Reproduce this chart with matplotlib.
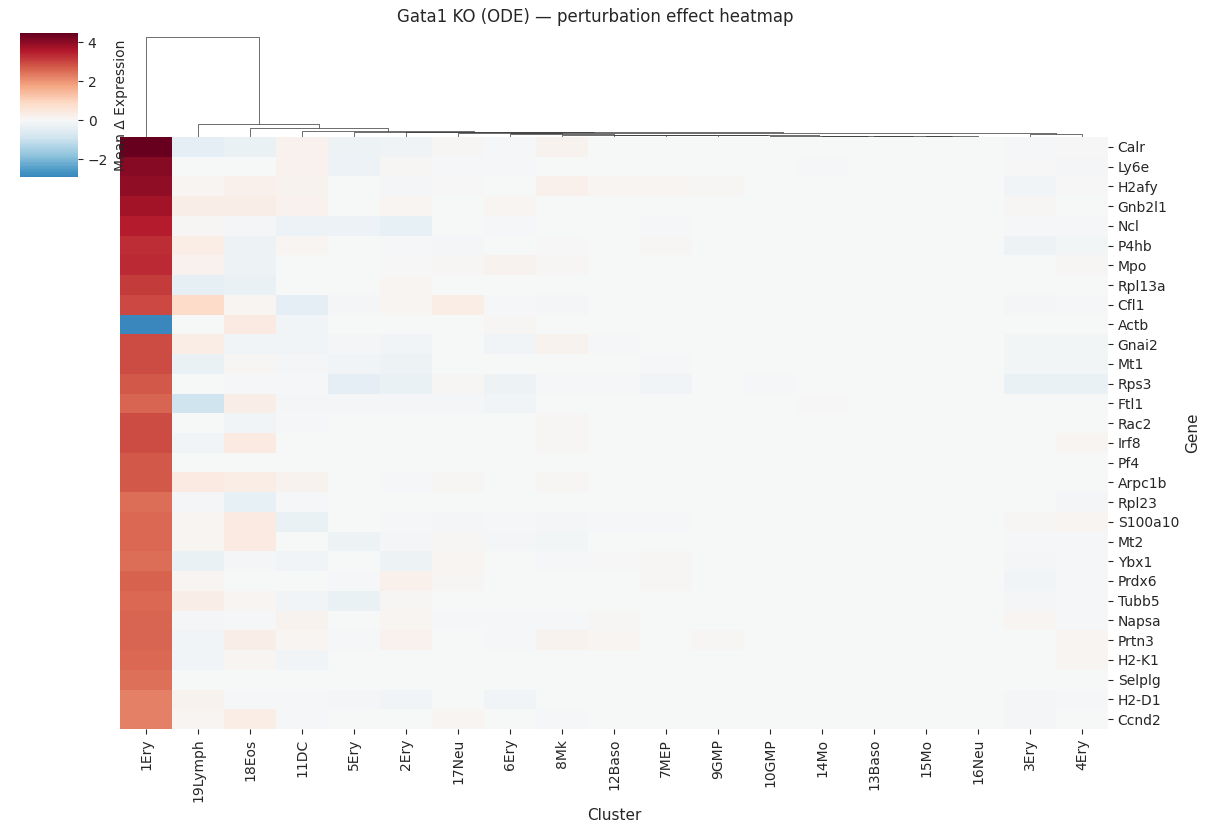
import matplotlib
matplotlib.use('Agg')
import matplotlib.pyplot as plt
from matplotlib.collections import LineCollection
import numpy as np
import pandas as pd
import seaborn as sns

plt.rcParams['text.color'] = '.15'
plt.rcParams['axes.labelcolor'] = '.15'
plt.rcParams['xtick.color'] = '.15'
plt.rcParams['ytick.color'] = '.15'

genes = ['Calr', 'Ly6e', 'H2afy', 'Gnb2l1', 'Ncl', 'P4hb', 'Mpo', 'Rpl13a',
         'Cfl1', 'Actb', 'Gnai2', 'Mt1', 'Rps3', 'Ftl1', 'Rac2', 'Irf8',
         'Pf4', 'Arpc1b', 'Rpl23', 'S100a10', 'Mt2', 'Ybx1', 'Prdx6',
         'Tubb5', 'Napsa', 'Prtn3', 'H2-K1', 'Selplg', 'H2-D1', 'Ccnd2']

clusters = ['1Ery', '19Lymph', '18Eos', '11DC', '5Ery', '2Ery', '17Neu',
            '6Ery', '8Mk', '12Baso', '7MEP', '9GMP', '10GMP', '14Mo',
            '13Baso', '15Mo', '16Neu', '3Ery', '4Ery']

# mean delta expression, one row per gene, columns in cluster order above
delta = [
    [4.48, -0.45, -0.30, 0.20, -0.20, -0.18, 0.05, -0.07, 0.15, 0.00, -0.02, 0.00, 0.00, 0.00, 0.00, 0.00, 0.00, -0.08, 0.02],
    [4.05, 0.00, 0.00, 0.20, -0.28, 0.05, -0.06, -0.05, 0.00, 0.00, 0.00, 0.00, -0.02, -0.08, 0.00, 0.00, 0.00, 0.02, -0.10],
    [3.95, 0.10, 0.22, 0.15, 0.00, -0.10, 0.03, 0.00, 0.22, 0.12, 0.10, 0.05, 0.00, -0.02, 0.00, 0.00, 0.00, -0.15, 0.02],
    [3.75, 0.30, 0.30, 0.20, 0.00, 0.10, 0.00, 0.08, -0.02, 0.00, 0.00, 0.00, 0.00, 0.00, 0.00, 0.00, 0.00, 0.05, 0.00],
    [3.50, 0.05, -0.10, -0.28, -0.28, -0.35, 0.00, -0.03, -0.02, 0.00, -0.03, 0.00, 0.00, -0.02, 0.00, 0.00, 0.00, -0.05, -0.05],
    [3.30, 0.35, -0.25, 0.10, -0.02, -0.05, -0.10, -0.02, 0.03, 0.00, 0.05, -0.02, 0.00, 0.00, 0.00, 0.00, 0.00, -0.20, -0.12],
    [3.35, 0.20, -0.20, 0.00, 0.00, 0.02, 0.05, 0.15, 0.05, 0.00, 0.00, 0.00, 0.00, 0.00, 0.00, -0.02, 0.00, 0.00, 0.05],
    [3.15, -0.40, -0.30, 0.00, 0.00, 0.08, 0.00, 0.00, 0.00, 0.00, 0.00, 0.00, 0.00, 0.00, 0.00, 0.00, 0.00, -0.02, 0.00],
    [2.95, 0.85, 0.10, -0.45, -0.10, 0.08, 0.35, -0.05, -0.10, -0.02, -0.02, 0.00, -0.02, 0.00, -0.02, 0.00, 0.00, -0.10, -0.05],
    [-2.91, 0.00, 0.40, -0.15, 0.00, 0.00, 0.00, 0.05, 0.00, 0.00, 0.00, 0.00, 0.00, 0.00, 0.00, 0.00, 0.00, 0.00, -0.02],
    [2.90, 0.35, -0.15, -0.15, -0.10, -0.15, 0.00, -0.15, 0.15, -0.03, 0.00, -0.02, 0.00, 0.00, 0.00, 0.00, 0.00, -0.12, -0.12],
    [2.90, -0.30, 0.05, -0.10, -0.15, -0.20, 0.00, 0.00, 0.00, 0.00, -0.03, 0.00, -0.02, 0.00, 0.00, 0.00, 0.00, -0.12, -0.12],
    [2.75, 0.00, -0.05, -0.05, -0.45, -0.30, 0.05, -0.25, -0.05, -0.05, -0.15, -0.02, -0.08, -0.02, -0.02, -0.02, -0.02, -0.30, -0.30],
    [2.60, -0.90, 0.30, -0.10, -0.10, -0.10, -0.10, -0.15, 0.00, 0.00, -0.02, 0.00, -0.02, 0.02, 0.00, 0.00, 0.00, 0.00, 0.00],
    [2.90, 0.00, -0.15, -0.05, 0.00, 0.00, 0.00, 0.00, 0.05, 0.00, 0.00, 0.00, 0.00, 0.00, 0.00, 0.00, 0.00, 0.00, 0.00],
    [2.90, -0.15, 0.40, 0.00, 0.00, 0.00, 0.00, 0.00, 0.05, 0.00, 0.00, 0.00, 0.00, 0.00, 0.00, 0.00, 0.00, -0.02, 0.08],
    [2.80, 0.00, 0.00, -0.02, 0.00, 0.00, 0.00, 0.00, 0.00, 0.00, 0.00, 0.00, 0.00, 0.00, 0.00, 0.00, 0.00, 0.00, 0.00],
    [2.80, 0.40, 0.35, 0.15, -0.02, -0.05, 0.05, 0.00, 0.05, 0.00, 0.00, 0.00, 0.00, 0.00, 0.00, 0.00, 0.00, 0.00, 0.00],
    [2.50, -0.10, -0.35, -0.05, 0.00, -0.02, 0.00, 0.00, 0.00, 0.00, 0.00, 0.00, 0.00, 0.00, -0.02, 0.00, 0.00, 0.00, -0.10],
    [2.55, 0.10, 0.40, -0.30, -0.02, -0.05, -0.10, -0.05, -0.10, -0.05, -0.03, -0.02, -0.02, 0.00, 0.00, 0.00, 0.00, 0.05, 0.10],
    [2.55, 0.10, 0.40, -0.02, -0.25, -0.10, 0.05, -0.10, -0.12, -0.02, 0.00, 0.00, 0.00, 0.00, 0.00, 0.00, 0.00, -0.05, -0.03],
    [2.50, -0.30, -0.10, -0.15, -0.02, -0.20, 0.10, -0.02, -0.08, 0.02, 0.05, 0.00, 0.00, 0.00, 0.00, 0.00, 0.00, -0.10, -0.05],
    [2.65, 0.10, 0.00, 0.00, -0.05, 0.22, 0.05, -0.02, 0.00, -0.02, 0.05, 0.00, 0.00, -0.02, -0.02, -0.02, -0.02, -0.15, -0.03],
    [2.55, 0.30, 0.10, -0.15, -0.30, 0.05, 0.00, 0.00, 0.00, 0.00, -0.02, 0.00, 0.00, 0.00, 0.00, 0.00, -0.02, -0.10, -0.05],
    [2.60, -0.10, -0.05, 0.15, -0.02, 0.10, -0.05, -0.05, -0.05, 0.05, 0.00, 0.00, 0.00, 0.00, 0.00, 0.00, 0.00, 0.12, -0.05],
    [2.60, -0.15, 0.30, 0.10, -0.05, 0.20, -0.02, -0.05, 0.15, 0.08, 0.00, 0.05, 0.00, 0.00, 0.00, 0.00, 0.00, 0.00, 0.08],
    [2.55, -0.15, 0.10, -0.15, 0.00, 0.00, 0.00, -0.02, 0.00, -0.02, 0.00, 0.00, 0.00, 0.00, 0.00, 0.00, 0.00, 0.00, 0.08],
    [2.45, -0.02, 0.00, 0.00, 0.00, 0.00, 0.00, 0.00, 0.00, -0.02, 0.00, 0.00, 0.00, 0.00, 0.00, 0.00, 0.00, -0.02, 0.00],
    [2.25, 0.15, -0.05, -0.05, -0.10, -0.15, 0.00, -0.15, 0.00, 0.00, 0.00, -0.02, -0.02, -0.02, 0.00, 0.00, 0.00, -0.10, -0.08],
    [2.25, 0.10, 0.35, -0.05, 0.00, 0.00, 0.10, 0.00, -0.05, 0.00, 0.00, 0.00, 0.00, 0.00, 0.00, -0.02, -0.02, -0.10, -0.02],
]

# column linkage (scipy style ids: leaves 0..18, merged clusters 19..)
link_left = [15, 14, 13, 12, 11, 10, 9, 8, 7, 17, 6, 29, 5, 4, 3, 2, 1, 0]
link_right = [16, 19, 20, 21, 22, 23, 24, 25, 26, 18, 27, 28, 30, 31, 32, 33, 34, 35]
link_height = [0.17, 0.21, 0.25, 0.29, 0.34, 0.38, 0.42, 0.50, 0.63, 0.71,
               0.76, 0.80, 0.97, 1.09, 1.24, 1.85, 2.73, 21.0]


def dendrogram_segments(n, left, right, height):
    xpos = {i: 5 + 10 * i for i in range(n)}
    ypos = {i: 0.0 for i in range(n)}
    segs = []
    for k, (a, b, h) in enumerate(zip(left, right, height)):
        segs.append([(xpos[a], ypos[a]), (xpos[a], h),
                     (xpos[b], h), (xpos[b], ypos[b])])
        xpos[n + k] = (xpos[a] + xpos[b]) / 2
        ypos[n + k] = h
    return segs


df = pd.DataFrame(delta, index=genes, columns=clusters)

W, H = 1210, 833
fig = plt.figure(figsize=(W / 100, H / 100), dpi=100)

ax_heat = fig.add_axes([120 / W, 1 - 729 / H, 988 / W, 592 / H])
ax_dend = fig.add_axes([120 / W, 1 - 137 / H, 988 / W, 105 / H])
ax_cbar = fig.add_axes([20 / W, 1 - 177 / H, 58 / W, 144 / H])

sns.heatmap(df, ax=ax_heat, cmap='RdBu_r', center=0, cbar_ax=ax_cbar,
            xticklabels=True, yticklabels=True,
            cbar_kws={'label': 'Mean \u0394 Expression'})
ax_heat.yaxis.tick_right()
ax_heat.yaxis.set_label_position('right')
ax_heat.set_yticklabels(genes, rotation=0, fontsize=10)
ax_heat.set_xticklabels(clusters, rotation=90, fontsize=10)
ax_heat.set_xlabel('Cluster', fontsize=11)
ax_heat.set_ylabel('Gene', fontsize=11)
ax_cbar.tick_params(labelsize=10)
ax_cbar.yaxis.label.set_size(10)

segs = dendrogram_segments(len(clusters), link_left, link_right, link_height)
ax_dend.add_collection(LineCollection(segs, linewidths=0.5,
                                      colors=[(0.2, 0.2, 0.2)]))
ax_dend.set_xlim(0, 10 * len(clusters))
ax_dend.set_ylim(0, max(link_height) * 1.05)
ax_dend.axis('off')

fig.suptitle('Gata1 KO (ODE) \u2014 perturbation effect heatmap',
             x=595 / W, y=1 - 8 / H, va='top', fontsize=12)

fig.savefig('out.png', dpi=100)
